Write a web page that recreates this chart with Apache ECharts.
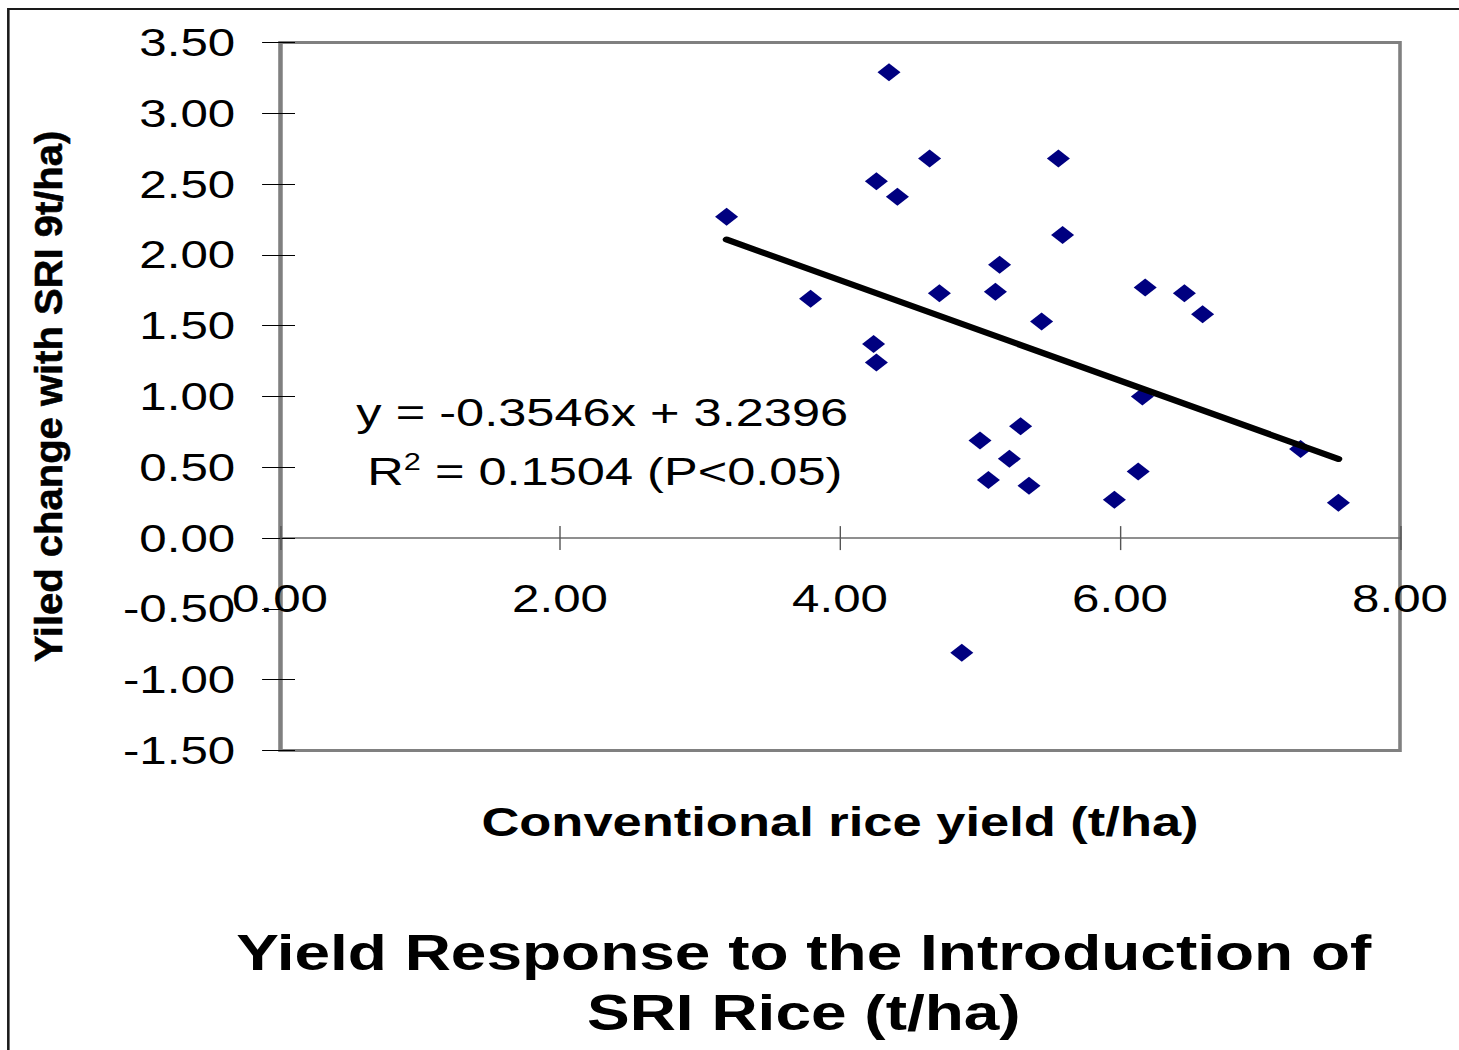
<!DOCTYPE html>
<html>
<head>
<meta charset="utf-8">
<title>Yield Response to the Introduction of SRI Rice</title>
<script src="https://cdn.jsdelivr.net/npm/echarts@6/dist/echarts.min.js"></script>
<style>
  html, body { margin: 0; padding: 0; background: #fff; overflow: hidden; }
  #wrap { width: 1459px; height: 1050px; overflow: hidden; position: relative; }
  /* the chart is laid out on a narrower canvas and widened, giving the wide slide-style lettering */
  #chart { width: 1140px; height: 1050px; transform: scaleX(1.28); transform-origin: 0 0; }
</style>
</head>
<body>
<div id="wrap"><div id="chart"></div></div>
<script>
// Conventional rice yield (t/ha) for each site
const conventionalYield = [
  3.19, 3.79, 4.35, 4.26, 4.41, 4.64, 4.24, 4.26, 4.71, 4.87,
  5.00, 5.06, 5.11, 5.14, 5.21, 5.29, 5.35, 5.44, 5.56, 5.59,
  5.96, 6.13, 6.16, 6.18, 6.46, 6.59, 7.29, 7.56
];
// Yield change with SRI (t/ha) at the same sites
const yieldChange = [
  2.27, 1.69, 3.29, 2.52, 2.41, 2.68, 1.37, 1.24, 1.73, -0.81,
  0.69, 0.41, 1.74, 1.93, 0.56, 0.79, 0.37, 1.53, 2.68, 2.14,
  0.27, 0.47, 1.00, 1.77, 1.73, 1.58, 0.63, 0.25
];
// Axis tick values
const xTicks = [0, 2, 4, 6, 8];
const yTicks = [-1.5, -1.0, -0.5, 0, 0.5, 1.0, 1.5, 2.0, 2.5, 3.0, 3.5];
// Linear trend reported for the data
const trendSlope = -0.3546;
const trendIntercept = 3.2396;
const trendR2 = '0.1504';

const FONT = '"Liberation Sans", Arial, Helvetica, sans-serif';

const points = conventionalYield.map((x, i) => [x, yieldChange[i]]);
const xMin = Math.min(...conventionalYield);
const xMax = Math.max(...conventionalYield);
const trendLine = [xMin, xMax].map(x => [x, trendSlope * x + trendIntercept]);

const xRange = { min: xTicks[0], max: xTicks[xTicks.length - 1], interval: xTicks[1] - xTicks[0] };
const yRange = { min: yTicks[0], max: yTicks[yTicks.length - 1], interval: yTicks[1] - yTicks[0] };

// plot box
const GRID = { left: 218.75, top: 42.5, width: 875, height: 708 };
// the x axis crosses at y = 0: shift it up from the bottom edge of the plot box
const zeroOffset = -GRID.height * (0 - yRange.min) / (yRange.max - yRange.min);

const tickLabel = { fontFamily: FONT, fontSize: 38.5, color: '#000' };

const chart = echarts.init(document.getElementById('chart'), null, { renderer: 'svg' });

chart.setOption({
  animation: false,
  backgroundColor: '#fff',
  title: {
    text: 'Yield Response to the Introduction of\nSRI Rice (t/ha)',
    left: 623,
    top: 918,
    textAlign: 'center',
    textStyle: { fontFamily: FONT, fontSize: 50, fontWeight: 'bold', color: '#000', lineHeight: 60 }
  },
  grid: {
    ...GRID,
    containLabel: false, outerBoundsMode: 'none',
    show: true, borderColor: '#808080', borderWidth: 2.8, backgroundColor: 'transparent'
  },
  xAxis: [
    {
      type: 'value', ...xRange, position: 'bottom', offset: zeroOffset,
      axisLine: { onZero: false, lineStyle: { color: '#6a6a6a', width: 1.6 } },
      axisTick: { show: true, inside: false, length: 12, lineStyle: { color: '#555', width: 1.1 } },
      axisLabel: { ...tickLabel, margin: 41, formatter: v => v.toFixed(2) },
      splitLine: { show: false },
      name: 'Conventional rice yield (t/ha)',
      nameLocation: 'middle',
      nameGap: 263,
      nameTextStyle: { fontFamily: FONT, fontSize: 41, fontWeight: 'bold', color: '#000' }
    },
    {
      type: 'value', ...xRange, position: 'bottom', offset: zeroOffset,
      axisLine: { show: false, onZero: false },
      axisTick: { show: true, inside: true, length: 12, lineStyle: { color: '#555', width: 1.1 } },
      axisLabel: { show: false },
      splitLine: { show: false }
    }
  ],
  yAxis: [
    {
      type: 'value', ...yRange,
      axisLine: { show: true, onZero: false, lineStyle: { color: '#808080', width: 2.8 } },
      axisTick: { show: true, inside: false, length: 14, lineStyle: { color: '#000', width: 1 } },
      axisLabel: { ...tickLabel, margin: 35, formatter: v => v.toFixed(2) },
      splitLine: { show: false }
    },
    {
      type: 'value', ...yRange, position: 'left',
      axisLine: { show: false, onZero: false },
      axisTick: { show: true, inside: true, length: 11.7, lineStyle: { color: '#000', width: 1 } },
      axisLabel: { show: false },
      splitLine: { show: false }
    }
  ],
  graphic: [
    {
      // outer chart frame (left and top edges visible)
      type: 'rect', silent: true, z: 0,
      shape: { x: 6.5, y: 9, width: 3000, height: 3000 },
      style: { fill: 'none', stroke: '#1a1a1a', lineWidth: 2 }
    },
    {
      type: 'text', silent: true,
      x: 38, y: 396.5, rotation: Math.PI / 2, scaleY: 0.76,
      style: {
        text: 'Yiled change with SRI 9t/ha)',
        font: 'bold 40px ' + FONT, fill: '#000',
        stroke: '#000', lineWidth: 0.6,
        align: 'center', verticalAlign: 'middle', textAlign: 'center', textVerticalAlign: 'middle'
      }
    },
    {
      type: 'text', silent: true, z: 10,
      x: 470.5, y: 413,
      style: {
        text: 'y = ' + trendSlope + 'x + ' + trendIntercept,
        font: '39.5px ' + FONT, fill: '#000',
        align: 'center', verticalAlign: 'middle', textAlign: 'center', textVerticalAlign: 'middle'
      }
    },
    {
      type: 'text', silent: true, z: 10,
      x: 472.5, y: 472,
      style: {
        text: '{n|R}{s|2}{n| = ' + trendR2 + ' (P<0.05)}',
        align: 'center', verticalAlign: 'middle', textAlign: 'center', textVerticalAlign: 'middle',
        rich: {
          n: { fontFamily: FONT, fontSize: 39.5, color: '#000', lineHeight: 44 },
          s: { fontFamily: FONT, fontSize: 24, color: '#000', verticalAlign: 'top', lineHeight: 30 }
        }
      }
    }
  ],
  series: [
    {
      type: 'scatter',
      xAxisIndex: 0, yAxisIndex: 0,
      data: points,
      symbol: 'diamond',
      symbolSize: 18,
      itemStyle: { color: '#000080', opacity: 1 },
      silent: true,
      z: 2
    },
    {
      type: 'line',
      xAxisIndex: 0, yAxisIndex: 0,
      data: trendLine,
      symbol: 'none',
      lineStyle: { color: '#000', width: 6, cap: 'round' },
      silent: true,
      z: 3
    }
  ]
});
</script>
</body>
</html>
